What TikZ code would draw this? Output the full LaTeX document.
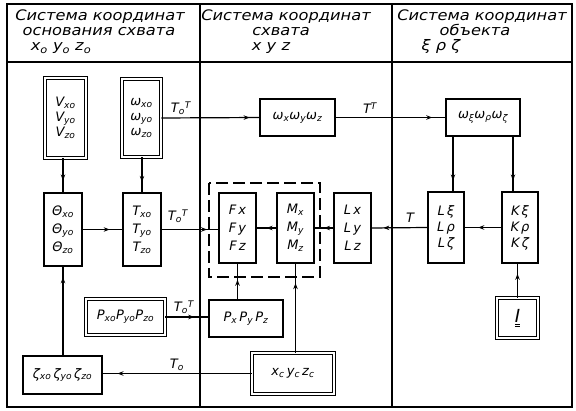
\documentclass[tikz,border=0pt]{standalone}
\usepackage{fontspec}
\setmainfont{DejaVu Sans}
\newfontfamily\hdfont[FakeStretch=1.12]{DejaVu Sans}
\usetikzlibrary{arrows.meta,decorations.markings}
\newcommand{\sbs}[1]{\textsubscript{#1}}
\newcommand{\TTo}{T\textsubscript{o}\textsuperscript{T}}
\begin{document}
\begin{tikzpicture}[x=1pt,y=-1pt,
  every node/.style={font=\itshape\fontsize{13}{15}\selectfont},
  box/.style={draw,line width=1.2pt,inner sep=0pt,align=center},
  dbox/.style={draw,line width=0.9pt,double,double distance=2.6pt,inner sep=0pt,align=center},
  ln/.style={line width=1.2pt},
  arr/.style={ln,decoration={markings,mark=at position #1 with {\arrow{Stealth[length=6pt,width=4.5pt]}}},postaction={decorate}},
  hd/.style={font=\hdfont\itshape\fontsize{14.5}{15}\selectfont,inner sep=0pt,anchor=base},
  lbl/.style={font=\itshape\fontsize{13}{14}\selectfont,inner sep=0pt},
  tall/.style={font=\itshape\fontsize{13}{18}\selectfont}
]
\useasboundingbox (0,0) rectangle (576,411);
% frame
\draw[ln] (7,4) rectangle (572,407);
\draw[ln] (7,62) -- (572,62);
\draw[ln] (200,4) -- (200,407);
\draw[ln] (392,4) -- (392,407);
% headers
\node[hd] (h1a) at (100,21) {Система координат};
\node[hd] (h1b) at (99,36) {основания схвата};
\node[hd] (h1c) at (61,51) {x\sbs{o} y\sbs{o} z\sbs{o}};
\node[hd] (h2a) at (286,21) {Система координат};
\node[hd] (h2b) at (281,36) {схвата};
\node[hd] (h2c) at (271,51) {x y z};
\node[hd] (h3a) at (482,21) {Система координат};
\node[hd] (h3b) at (475,36) {объекта};
\node[hd] (h3c) at (441,51) {ξ ρ ζ};
% boxes
\node[dbox,minimum width=41pt,minimum height=80pt] (V) at (65.5,118) {V\sbs{xo}\\V\sbs{yo}\\V\sbs{zo}};
\node[dbox,minimum width=39pt,minimum height=78pt] (W0) at (141.5,118) {ω\sbs{xo}\\ω\sbs{yo}\\ω\sbs{zo}};
\node[box,tall,minimum width=38pt,minimum height=73pt] (Th) at (63,229.5) {Θ\sbs{xo}\\Θ\sbs{yo}\\Θ\sbs{zo}};
\node[box,tall,minimum width=38pt,minimum height=73pt] (Tx) at (142,229.5) {T\sbs{xo}\\T\sbs{yo}\\T\sbs{zo}};
\node[box,minimum width=75pt,minimum height=37pt] (Wxyz) at (297.5,117.5) {ω\sbs{x}ω\sbs{y}ω\sbs{z}};
\node[box,minimum width=74pt,minimum height=37pt] (Wxi) at (483,117.5) {ω\sbs{ξ}ω\sbs{ρ}ω\sbs{ζ}};
\node[box,tall,minimum width=37pt,minimum height=70pt] (F) at (237.5,228) {F\,x\\F\,y\\F\,z};
\node[box,tall,minimum width=37pt,minimum height=70pt] (M) at (295.5,228) {M\sbs{x}\\M\sbs{y}\\M\sbs{z}};
\node[box,tall,minimum width=37pt,minimum height=70pt] (L) at (352.5,228) {L\,x\\L\,y\\L\,z};
\node[box,minimum width=36pt,minimum height=71pt,font=\itshape\fontsize{13}{16}\selectfont] (Lxi) at (446,227.5) {L\,ξ\\L\,ρ\\L\,ζ};
\node[box,minimum width=36pt,minimum height=71pt,font=\itshape\fontsize{13}{16}\selectfont] (K) at (520,227.5) {K\,ξ\\K\,ρ\\K\,ζ};
\node[dbox,minimum width=41pt,minimum height=40pt,font=\itshape\fontsize{18}{18}\selectfont] (I) at (517.5,318) {$\underline{\underline{\textit{I}}}$};
\node[box,minimum width=74pt,minimum height=37pt] (P) at (246,318.5) {P\sbs{x}\,P\sbs{y}\,P\sbs{z}};
\node[dbox,minimum width=79pt,minimum height=36pt] (P0) at (125.5,317) {P\sbs{xo}P\sbs{yo}P\sbs{zo}};
\node[dbox,minimum width=82pt,minimum height=41pt] (Xc) at (293,373.5) {x\sbs{c}\,y\sbs{c}\,z\sbs{c}};
\node[box,minimum width=79pt,minimum height=38pt] (Z) at (62.5,375) {ζ\sbs{xo}\,ζ\sbs{yo}\,ζ\sbs{zo}};
% dashed group
\draw[ln,dashed,dash pattern=on 12pt off 5pt] (209,183) rectangle (320,277);
% coordinates for offset verticals
\coordinate (cL) at (453,0);
\coordinate (cK) at (513,0);
% connectors
\draw[arr=0.65] (Th.north |- V.south) -- (Th.north);
\draw[arr=0.7] (Tx.north |- W0.south) -- (Tx.north);
\draw[arr=0.9] (W0.east) -- (Wxyz.west);
\draw[arr=0.88] (Wxyz.east) -- (Wxi.west);
\draw[arr=0.8] (Wxi.south -| cL) -- (Lxi.north -| cL);
\draw[arr=0.8] (Wxi.south -| cK) -- (K.north -| cK);
\draw[arr=0.63] (K.west) -- (Lxi.east);
\draw[arr=0.79] (Lxi.west) -- (L.east);
\draw[arr=0.5] (L.west) -- (M.east);
\draw[arr=0.5] (M.west) -- (F.west -| F.east);
\draw[arr=0.8] (Tx.east) -- (Tx.east -| F.west);
\draw[arr=0.68] (Th.east) -- (Tx.west);
\draw[arr=0.88] (Th.south |- Z.north) -- (Th.south);
\draw[arr=0.55] (F.south |- P.north) -- (F.south);
\draw[arr=0.78] (M.south |- Xc.north) -- (M.south);
\draw[arr=0.67] (P0.east) -- (P0.east -| P.west);
\draw[arr=0.9] (Xc.west) -- (Xc.west -| Z.east);
\draw[arr=0.7] (I.north) -- (I.north |- K.south);
% labels
\node[lbl] (t1) at (181,108) {\TTo};
\node[lbl] (t2) at (370,108) {T\textsuperscript{T}};
\node[lbl] (t3) at (178,216) {\TTo};
\node[lbl] (t4) at (410,218) {T};
\node[lbl] (t5) at (184,307) {\TTo};
\node[lbl] (t6) at (177,365) {T\sbs{o}};
\end{tikzpicture}
\end{document}
